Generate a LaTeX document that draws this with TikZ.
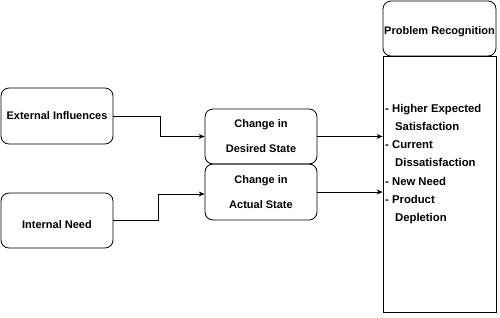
\documentclass[tikz,border=0pt]{standalone}
\usepackage{fontspec}
\setmainfont{Liberation Sans}
\usetikzlibrary{arrows.meta}
\begin{document}
\begin{tikzpicture}[x=1pt,y=-1pt,
  rbox/.style={draw=black, line width=0.8pt, rounded corners=8pt, font=\bfseries\fontsize{11}{25}\selectfont, align=center, inner sep=0pt},
  lbl/.style={font=\bfseries\fontsize{11}{25}\selectfont, inner sep=0pt},
  conn/.style={draw=black, line width=0.8pt, -{Stealth[length=6pt,width=5pt]}}]
\useasboundingbox (0,0) rectangle (500,317);
\node[rbox, minimum width=112pt, minimum height=56pt] (ext) at (57,116) {External Influences};
\node[rbox, minimum width=112pt, minimum height=55pt] (int) at (57,220.5) {};
\node[lbl] (intl) at (57,224.5) {Internal Need};
\node[rbox, minimum width=112pt, minimum height=55pt] (des) at (261,136.5) {Change in\\Desired State};
\node[rbox, minimum width=112pt, minimum height=56pt] (act) at (261,192) {Change in\\Actual State};
\node[rbox, minimum width=113pt, minimum height=55pt] (pr) at (439.5,28.5) {};
\node[lbl] (prl) at (439.5,32) {Problem Recognition};
\node[draw=black, line width=0.8pt, minimum width=113pt, minimum height=256pt, inner sep=0pt] (lst) at (439.5,184) {};
\node[anchor=north west, align=left, inner sep=0pt, font=\bfseries\fontsize{11.3}{18.2}\selectfont] (txt) at (385,104)
  {- Higher Expected\\\hspace*{10pt}Satisfaction\\- Current\\\hspace*{10pt}Dissatisfaction\\- New Need\\- Product\\\hspace*{10pt}Depletion};
\draw[conn] (ext.east) -- (160,116) -- (160,136.5) -- (des.west);
\draw[conn] (int.east) -- (158,220.5) -- (158,194) -- ([yshift=-2pt]act.west);
\draw[conn] (des.east) -- (des.east -| lst.west);
\draw[conn] (act.east) -- (act.east -| lst.west);
\end{tikzpicture}
\end{document}
